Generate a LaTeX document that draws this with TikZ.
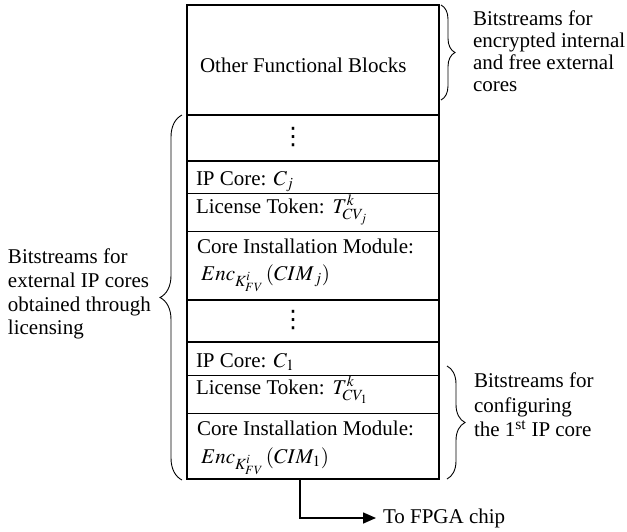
\documentclass[tikz,border=0pt]{standalone}
\usepackage{mathptmx}
\usepackage{fontspec}
\setmainfont{Liberation Serif}
\newfontfamily\dotsfont{DejaVu Sans}
\usetikzlibrary{decorations.pathreplacing,arrows.meta,calc}
\begin{document}
\begin{tikzpicture}[x=1pt,y=-1pt,
  font=\fontsize{21}{23}\selectfont,
  every node/.style={inner sep=0pt, outer sep=0pt},
  row/.style={draw, line width=0.8pt, minimum width=252pt, anchor=north west},
  thickdiv/.style={line width=1.6pt},
  lbl/.style={anchor=base west},
  vdts/.style={font=\dotsfont\fontsize{24}{24}\selectfont},
  side/.style={anchor=north west, align=left},
  brc/.style={decorate, decoration={brace, amplitude=#1}, line width=0.9pt}]
\useasboundingbox (0,0) rectangle (627,531);
% rows
\node[row, minimum height=110pt] (ofb) at (187,5) {};
\node[row, minimum height=46pt] (dots1) at (187,115) {};
\node[row, minimum height=32pt] (ipj) at (187,161) {};
\node[row, minimum height=38pt] (ltj) at (187,193) {};
\node[row, minimum height=69pt] (cimj) at (187,231) {};
\node[row, minimum height=42pt] (dots2) at (187,300) {};
\node[row, minimum height=33pt] (ipone) at (187,342) {};
\node[row, minimum height=38pt] (ltone) at (187,375) {};
\node[row, minimum height=66pt] (cimone) at (187,413) {};
\draw[thickdiv] (ofb.north west) rectangle (cimone.south east);
\draw[thickdiv] (ofb.south west) -- (ofb.south east);
\draw[thickdiv] (dots1.south west) -- (dots1.south east);
\draw[thickdiv] (cimj.south west) -- (cimj.south east);
\draw[thickdiv] (dots2.south west) -- (dots2.south east);
% texts in rows
\node[lbl] (tofb) at (200,72) {Other Functional Blocks};
\node[vdts] (tdotsa) at (293,137) {⋮};
\node[lbl] (tipj) at (196,185) {IP Core: $C_j$};
\node[lbl] (tltj) at (196,213) {License Token:\hspace{8pt}$T^{k}_{CV_j}$};
\node[lbl] (tcimj) at (197,253) {Core Installation Module:};
\node[lbl] (tencj) at (201,280) {$Enc_{K^{i}_{FV}}\,(CIM_{\,j})$};
\node[vdts] (tdotsb) at (293,320) {⋮};
\node[lbl] (tipone) at (196,367) {IP Core: $C_1$};
\node[lbl] (tltone) at (196,394) {License Token:\hspace{8pt}$T^{k}_{CV_1}$};
\node[lbl] (tcimone) at (197,435) {Core Installation Module:};
\node[lbl] (tencone) at (201,463) {$Enc_{K^{i}_{FV}}\,(CIM_{1})$};
% output arrow
\coordinate (out) at ($(cimone.south west)+(113,0)$);
\node[anchor=west] (fpga) at (383,518) {To FPGA chip};
\draw[line width=1.6pt, -{Triangle[length=13pt,width=11pt]}, shorten >=7pt] (out) |- (fpga.west);
% braces
\draw[brc=14pt] (441,5) -- (441,100);
\draw[brc=18pt] (447,366) -- (447,479);
\draw[brc=22pt] (182,480) -- (182,115);
% side labels
\node[side, font=\fontsize{21}{22}\selectfont] (labtop) at (473,11) {Bitstreams for\\encrypted internal\\and free external\\cores};
\node[side, font=\fontsize{21}{24.5}\selectfont] (labright) at (474,373) {Bitstreams for\\configuring\\the 1\textsuperscript{st} IP core};
\node[side, font=\fontsize{21}{23.7}\selectfont] (lableft) at (8,249) {Bitstreams for\\external IP cores\\obtained through\\licensing};
\end{tikzpicture}
\end{document}
